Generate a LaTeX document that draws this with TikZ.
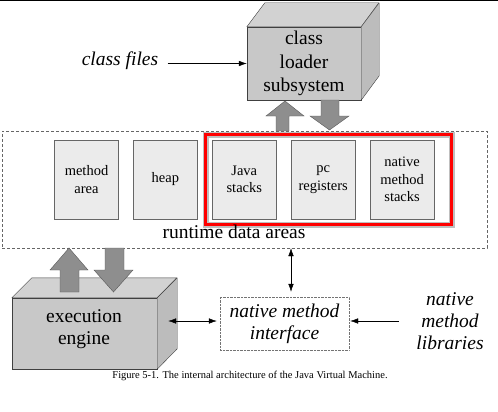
\documentclass[tikz,border=0pt]{standalone}
\usepackage{fontspec}
\setmainfont{Liberation Serif}
\usetikzlibrary{positioning,calc,arrows.meta}

\definecolor{facefront}{HTML}{C8C8C8}
\definecolor{facetop}{HTML}{D2D2D2}
\definecolor{faceside}{HTML}{BCBCBC}
\definecolor{boxfill}{HTML}{EBEBEB}
\definecolor{arrfill}{HTML}{8E8E8E}

\tikzset{
  cubeface/.style={draw=black!75, fill=facefront, align=center, inner sep=0pt,
    font=\fontsize{19.5}{23.5}\selectfont},
  cubetop/.style={draw=black!75, fill=facetop, line join=round},
  cubeside/.style={draw=black!75, fill=faceside, line join=round},
  membox/.style={draw=black!60, fill=boxfill, align=center, minimum width=64,
    minimum height=79, inner sep=0pt, font=\fontsize{14.5}{17.5}\selectfont},
  blockarr/.style={draw=black!65, fill=arrfill, line join=miter},
  thinarr/.style={-{Latex[length=8pt,width=5.5pt]}, thin},
  dblarr/.style={{Latex[length=8pt,width=5.5pt]}-{Latex[length=8pt,width=5.5pt]}, thin},
  bigtext/.style={font=\fontsize{19.5}{22}\selectfont\itshape, align=center}
}

\begin{document}
\begin{tikzpicture}[x=1pt,y=-1pt]
  \useasboundingbox (0,0) rectangle (498,412);
  \draw[line width=1.2pt] (0,0.6) -- (498,0.6);

  % Class loader subsystem
  \node[cubeface, minimum width=114, minimum height=73] (loader) at (304,63.5)
    {class\\loader\\subsystem};
  \draw[cubetop] (loader.north west) -- ++(18,-24) -- ++(114,0) -- (loader.north east) -- cycle;
  \draw[cubeside] (loader.north east) -- ++(18,-24) -- ++(0,73) -- (loader.south east) -- cycle;

  % class files
  \node[bigtext] (files) at (120,61) {class files};
  \draw[thinarr] ([xshift=6]files.east |- loader.west) -- (loader.west);

  % Runtime data areas
  \node[draw=black!60, dash pattern=on 3pt off 2pt, minimum width=485, minimum height=117] (runtime) at (244.5,189.5) {};

  \node[membox] (method) at (86.5,179.5) {method\\area};
  \node[membox, right=14.5pt of method] (heap) {heap};
  \node[membox, right=14.5pt of heap] (jstacks) {Java\\stacks};
  \node[membox, right=14.5pt of jstacks] (pcreg) {pc\\registers};
  \node[membox, right=14.5pt of pcreg] (nstacks) {native\\method\\stacks};

  % Highlight frame
  \draw[black!25, line width=6pt] (206,135) rectangle (452,225);
  \draw[red, line width=3pt] (205,134) rectangle (451,224);

  \node[font=\fontsize{19.5}{22}\selectfont, anchor=base] (rtlabel) at (234,238) {runtime data areas};

  % Block arrows between loader and runtime areas
  \draw[blockarr] (276,131) -- (276,116) -- (266,116) -- (285,101) -- (304,116)
    -- (289,116) -- (289,131) -- cycle;
  \draw[blockarr] (321,100) -- (321,116) -- (310,116) -- (329.5,130) -- (349,116)
    -- (339,116) -- (339,100) -- cycle;

  % Execution engine
  \node[cubeface, minimum width=145, minimum height=71] (engine) at (84.5,333.5) {};
  \draw[cubetop] (engine.north west) -- ++(20,-20) -- ++(145,0) -- (engine.north east) -- cycle;
  \draw[cubeside] (engine.north east) -- ++(20,-20) -- ++(0,71) -- (engine.south east) -- cycle;
  \node[font=\fontsize{19.5}{22}\selectfont, align=center] (enginetext) at (84,329) {execution\\engine};

  % Block arrows between runtime areas and engine
  \draw[blockarr] (60,292) -- (60,270) -- (50,270) -- (69,248) -- (88,270)
    -- (79,270) -- (79,292) -- cycle;
  \draw[blockarr] (105,248) -- (105,270) -- (94,270) -- (113.5,292) -- (133,270)
    -- (124,270) -- (124,248) -- cycle;

  % Native method interface
  \node[draw=black!55, densely dotted, bigtext, minimum width=129, minimum height=53,
    inner sep=0pt] (nmi) at (284.5,323.5) {native method\\interface};
  \node[bigtext] (libs) at (450,321) {native\\method\\libraries};

  \draw[dblarr] ([xshift=11]engine.east |- 0,321) -- ([xshift=-3]nmi.west |- 0,321);
  \draw[thinarr] ([xshift=-14]libs.west) -- ([xshift=1]nmi.east |- libs.west);
  \draw[dblarr] (runtime.south -| 291,0) -- ([xshift=6.5,yshift=5]nmi.north);

  % Caption
  \node[font=\fontsize{10.5}{12}\selectfont] (caption) at (250,376)
    {Figure 5-1. The internal architecture of the Java Virtual Machine.};
\end{tikzpicture}
\end{document}
